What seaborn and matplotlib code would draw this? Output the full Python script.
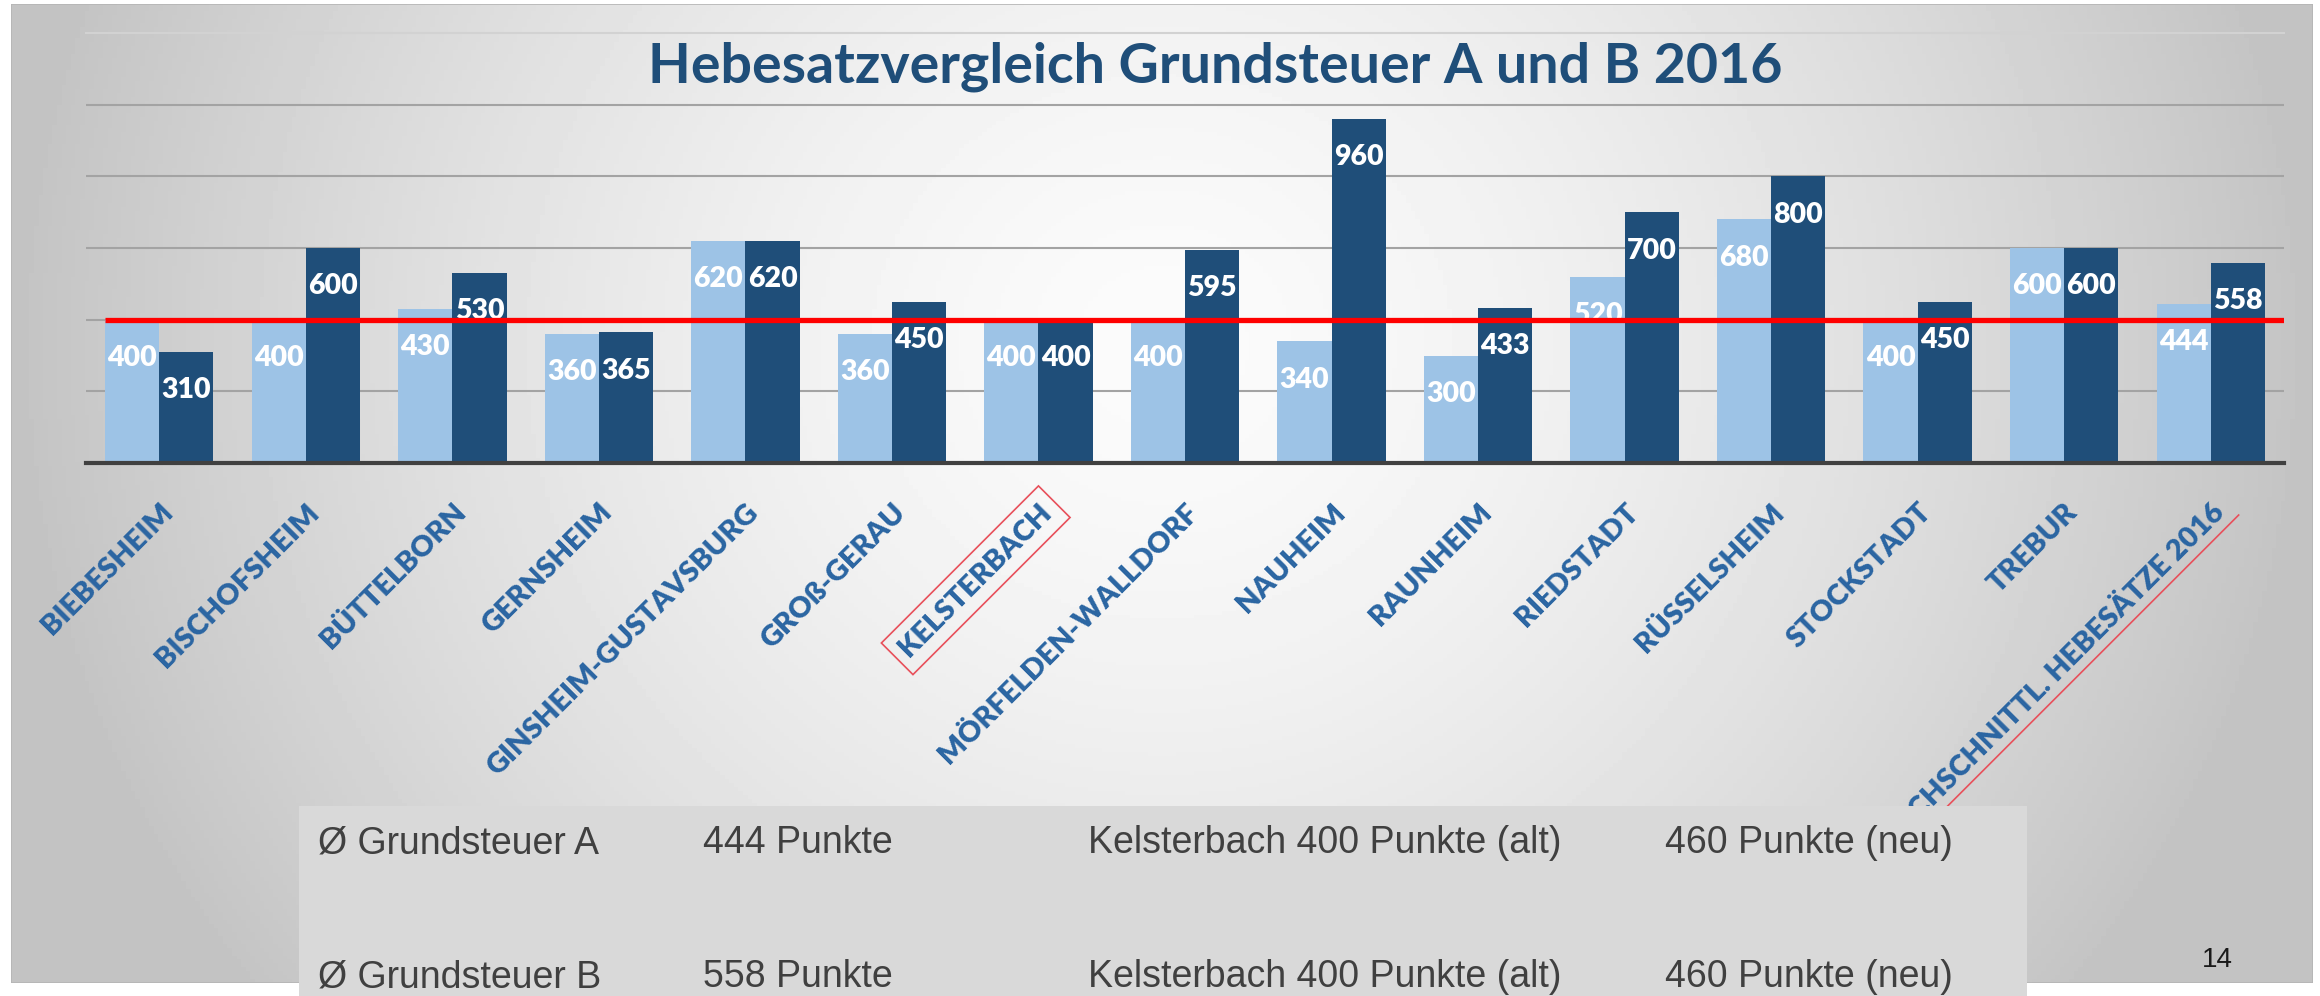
import numpy as np
import pandas as pd
import seaborn as sns
from matplotlib import pyplot as plt
from matplotlib.patches import Rectangle
from matplotlib.lines import Line2D

# Daten
gemeinden = ["BIEBESHEIM", "BISCHOFSHEIM", "BÜTTELBORN", "GERNSHEIM",
             "GINSHEIM-GUSTAVSBURG", "GROß-GERAU", "KELSTERBACH",
             "MÖRFELDEN-WALLDORF", "NAUHEIM", "RAUNHEIM", "RIEDSTADT",
             "RÜSSELSHEIM", "STOCKSTADT", "TREBUR",
             "DURCHSCHNITTL. HEBESÄTZE 2016"]
grundsteuer_a = [400, 400, 430, 360, 620, 360, 400, 400, 340, 300, 520, 680, 400, 600, 444]
grundsteuer_b = [310, 600, 530, 365, 620, 450, 400, 595, 960, 433, 700, 800, 450, 600, 558]
serien = ["Grundsteuer A", "Grundsteuer B"]
kelsterbach_alt = 400
y_ticks = [200, 400, 600, 800, 1000]
y_max = 1200

titel = "Hebesatzvergleich Grundsteuer A und B 2016"
tabelle_zeile_a = ["Ø Grundsteuer A", "444 Punkte", "Kelsterbach 400 Punkte (alt)", "460 Punkte (neu)"]
tabelle_zeile_b = ["Ø Grundsteuer B", "558 Punkte", "Kelsterbach 400 Punkte (alt)", "460 Punkte (neu)"]
seitenzahl = "14"

df = pd.DataFrame({
    "Gemeinde": gemeinden * 2,
    "Serie": [serien[0]] * len(gemeinden) + [serien[1]] * len(gemeinden),
    "Hebesatz": grundsteuer_a + grundsteuer_b,
})

W, H = 2320, 996
fig = plt.figure(figsize=(W / 100, H / 100), dpi=100)
fig.patch.set_facecolor("white")

# Hintergrund mit Verlauf (Folienrahmen)
bg = fig.add_axes([11 / W, 1 - 983 / H, (2313 - 11) / W, (983 - 4) / H], zorder=-5)
xx, yy = np.meshgrid(np.linspace(0, 1, 500), np.linspace(0, 1, 250))
r = np.sqrt(((xx - 0.5) / 0.5) ** 2 + ((yy - 0.35) / 1.1) ** 2)
grau = 0.985 - 0.22 * np.clip(r, 0, 1) ** 1.5
bg.imshow(grau, cmap="gray", vmin=0, vmax=1, aspect="auto", extent=[0, 1, 0, 1])
bg.add_patch(Rectangle((0, 0), 1, 1, transform=bg.transAxes, fill=False,
                       ec="#b5b5b5", lw=1.2))
bg.set_axis_off()

# Balkendiagramm
ax = fig.add_axes([86 / W, 1 - 463 / H, 2198 / W, 430 / H], zorder=0)
ax.patch.set_alpha(0)

sns.barplot(data=df, x="Gemeinde", y="Hebesatz", hue="Serie",
            palette=["#9DC3E6", "#1F4E79"], saturation=1,
            width=0.74, gap=0, linewidth=0, legend=False, ax=ax, zorder=3)

ax.set_xlim(-0.5, len(gemeinden) - 0.5)
ax.set_ylim(0, y_max)
ax.set_yticks(y_ticks)
ax.yaxis.grid(True, color="#a3a3a3", lw=1.5)
ax.set_axisbelow(True)
ax.tick_params(axis="y", left=False, labelleft=False)
ax.tick_params(axis="x", length=0, pad=26)
ax.set_xlabel("")
ax.set_ylabel("")
for s in ["left", "right"]:
    ax.spines[s].set_visible(False)
ax.spines["top"].set_color("#d2d2d2")
ax.spines["top"].set_linewidth(1.5)
ax.spines["bottom"].set_color("#404040")
ax.spines["bottom"].set_linewidth(3)
ax.spines["bottom"].set_zorder(4)

# Werte in den Balken
for cont, werte in zip(ax.containers, [grundsteuer_a, grundsteuer_b]):
    ax.bar_label(cont, labels=[str(v) for v in werte], padding=-37,
                 color="white", fontsize=20.5, fontweight="heavy",
                 family="Lato", zorder=5)

# rote Linie Kelsterbach (alt)
x_start = ax.containers[0][0].get_x()
ax.hlines(kelsterbach_alt, x_start, len(gemeinden) - 0.5,
          color="#FF0000", lw=3.8, zorder=6)

# Achsenbeschriftung
for lab in ax.get_xticklabels():
    lab.set_rotation(45)
    lab.set_ha("right")
    lab.set_va("top")
    lab.set_rotation_mode("anchor")
    lab.set_fontsize(21)
    lab.set_fontweight("heavy")
    lab.set_fontfamily("Lato")
    lab.set_color("#2A65A2")
    if lab.get_text() == "KELSTERBACH":
        lab.set_bbox(dict(boxstyle="square,pad=0.32", fc="none",
                          ec="#E8505B", lw=1.2))

fig.text(1215 / W, 1 - 82 / H, titel, ha="center", va="baseline",
         fontsize=40, fontweight="bold", color="#1F4E79", family="Lato")

# rote Unterstreichung der letzten Beschriftung
fig.canvas.draw()
lab = ax.get_xticklabels()[-1]
bb = lab.get_window_extent()
tmp = fig.text(0, 0, lab.get_text(), fontproperties=lab.get_fontproperties())
h = tmp.get_window_extent().height
tmp.remove()
s = h / np.sqrt(2)
off = 5 / np.sqrt(2)
p = np.array([[bb.x0 + s + off - 200, bb.y0 - off - 200],
              [bb.x1 + off + 6, bb.y1 - s - off + 6]])
p = fig.transFigure.inverted().transform(p)
fig.add_artist(Line2D(p[:, 0], p[:, 1], transform=fig.transFigure,
                      color="#E8505B", lw=1.2, zorder=1))

# Tabelle unten
fig.add_artist(Rectangle((299 / W, 0), (2027 - 299) / W, (996 - 806) / H,
                         transform=fig.transFigure, fc="#D9D9D9", ec="none", zorder=2))
for zeile, y in zip([tabelle_zeile_a, tabelle_zeile_b], [853, 987]):
    for txt, x in zip(zeile, [318, 703, 1088, 1665]):
        fig.text(x / W, 1 - y / H, txt, ha="left", va="baseline", fontsize=27,
                 color="#404040", family="Liberation Sans", zorder=3)

fig.text(2217 / W, 1 - 967 / H, seitenzahl, ha="center", va="baseline",
         fontsize=20, color="#1a1a1a", family="Liberation Sans")

plt.savefig("out.png", dpi=100)
